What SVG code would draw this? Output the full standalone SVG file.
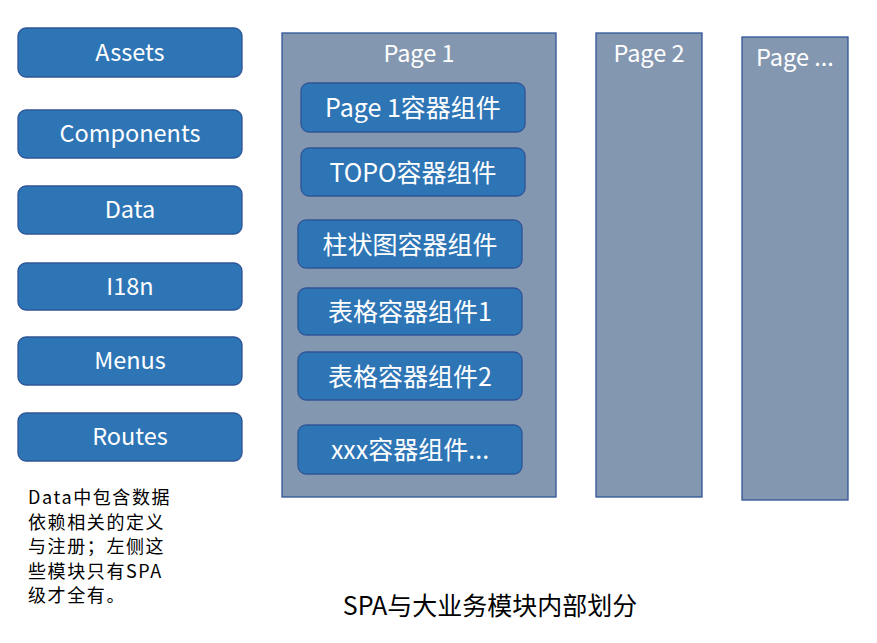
<svg xmlns="http://www.w3.org/2000/svg" width="877" height="643" viewBox="0 0 877 643">
<style>
.b{fill:#2E75B6;stroke:#2F5597;stroke-width:1.3}
.p{fill:#8497B0;stroke:#2F5597;stroke-width:1.3}
.t{font-family:"Noto Sans CJK SC","Noto Sans",sans-serif;fill:#fff;font-size:23.5px;text-anchor:middle;dominant-baseline:central}
.c{font-size:25px}
.k{font-family:"Noto Sans CJK SC","Noto Sans",sans-serif;fill:#000}
</style>
<rect width="877" height="643" fill="#fff"/>
<g id="assets"><rect class="b" x="18" y="28" width="224" height="49" rx="8"/><text class="t" x="130" y="50.5">Assets</text></g>
<g id="components"><rect class="b" x="18" y="110" width="224" height="48" rx="8"/><text class="t" x="130" y="132">Components</text></g>
<g id="data"><rect class="b" x="18" y="186" width="224" height="48" rx="8"/><text class="t" x="130" y="208">Data</text></g>
<g id="i18n"><rect class="b" x="18" y="263" width="224" height="47" rx="8"/><text class="t" x="130" y="284.5">I18n</text></g>
<g id="menus"><rect class="b" x="18" y="337" width="224" height="48" rx="8"/><text class="t" x="130" y="359">Menus</text></g>
<g id="routes"><rect class="b" x="18" y="413" width="224" height="48" rx="8"/><text class="t" x="130" y="435">Routes</text></g>
<g id="page1"><rect class="p" x="282" y="33" width="274" height="464"/><text class="t" x="419" y="52">Page 1</text></g>
<g id="page2"><rect class="p" x="596" y="33" width="106" height="464"/><text class="t" x="649" y="52">Page 2</text></g>
<g id="pageN"><rect class="p" x="742" y="37" width="106" height="463"/><text class="t" x="795" y="56">Page ...</text></g>
<g id="c1"><rect class="b" x="301" y="83" width="224" height="49" rx="8"/><text class="t c" x="413" y="106">Page 1容器组件</text></g>
<g id="c2"><rect class="b" x="301" y="148" width="224" height="48" rx="8"/><text class="t c" x="413" y="170.5">TOPO容器组件</text></g>
<g id="c3"><rect class="b" x="298" y="220" width="224" height="48" rx="8"/><text class="t c" x="410" y="242.5">柱状图容器组件</text></g>
<g id="c4"><rect class="b" x="298" y="288" width="224" height="47" rx="8"/><text class="t c" x="410" y="310">表格容器组件1</text></g>
<g id="c5"><rect class="b" x="298" y="352" width="224" height="48" rx="8"/><text class="t c" x="410" y="374.5">表格容器组件2</text></g>
<g id="c6"><rect class="b" x="298" y="425" width="224" height="49" rx="8"/><text class="t c" x="410" y="448">xxx容器组件...</text></g>
<g id="connectors"></g>
<g id="note"><text class="k" font-size="18" letter-spacing="1.6" x="28">
<tspan x="28" y="504">Data中包含数据</tspan>
<tspan x="28" y="528.5">依赖相关的定义</tspan>
<tspan x="28" y="553">与注册；左侧这</tspan>
<tspan x="28" y="577.5">些模块只有SPA</tspan>
<tspan x="28" y="602">级才全有。</tspan></text></g>
<g id="title"><text class="k" font-size="25" x="490" y="615" text-anchor="middle">SPA与大业务模块内部划分</text></g>
</svg>
